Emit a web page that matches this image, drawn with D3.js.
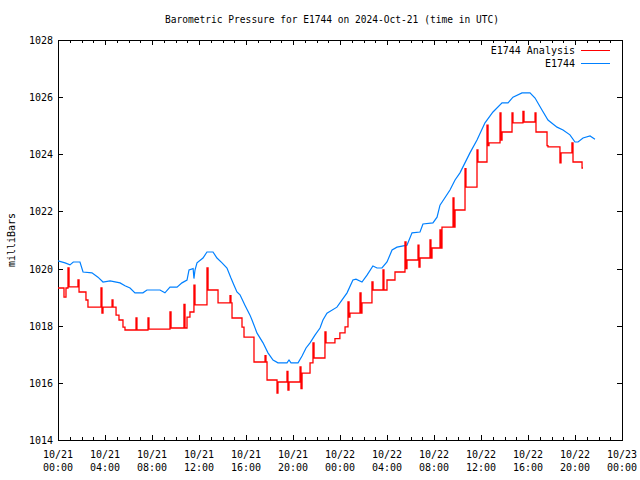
<!DOCTYPE html>
<html><head><meta charset="utf-8">
<script src="https://cdn.jsdelivr.net/npm/d3@7"></script>
<style>body{margin:0;background:#fff}svg{display:block}</style>
</head><body>
<svg id="c" width="640" height="480"></svg>
<script>
const titleText = "Barometric Pressure for E1744 on 2024-Oct-21 (time in UTC)";
const yLabel = "milliBars";
const seriesNames = ["E1744 Analysis", "E1744"];
const seriesColors = ["#ff0000", "#0080ff"];
const yTicks = [1014, 1016, 1018, 1020, 1022, 1024, 1026, 1028];
const xTickHours = [0, 4, 8, 12, 16, 20, 24, 28, 32, 36, 40, 44, 48];
const xTickDates = ["10/21","10/21","10/21","10/21","10/21","10/21","10/22","10/22","10/22","10/22","10/22","10/22","10/23"];
const xTickTimes = ["00:00","04:00","08:00","12:00","16:00","20:00","00:00","04:00","08:00","12:00","16:00","20:00","00:00"];

// hours since 2024-10-21 00:00 UTC, millibars
const stationSeries = [
[0,1020.27],[0.6,1020.2],[1.02,1020.13],[1.3,1020.23],[1.87,1020.23],[2.13,1019.88],[2.89,1019.85],
[3.4,1019.7],[3.83,1019.53],[4.43,1019.57],[5.28,1019.5],[5.7,1019.4],[6.13,1019.32],[6.55,1019.15],
[7.23,1019.15],[7.57,1019.25],[8.68,1019.25],[9.1,1019.15],[9.53,1019.35],[10.13,1019.35],[10.55,1019.5],
[10.98,1019.6],[11.15,1019.95],[11.5,1020.0],[11.57,1019.65],[11.66,1019.95],[11.83,1020.2],[12.34,1020.37],
[12.68,1020.58],[13.19,1020.58],[13.53,1020.37],[13.96,1020.2],[14.38,1020.02],[14.72,1019.67],[14.98,1019.42],
[15.23,1019.18],[15.49,1019.08],[15.91,1018.72],[16.34,1018.37],[16.51,1018.2],[16.94,1017.74],[17.45,1017.4],
[17.87,1017.05],[18.3,1016.8],[18.72,1016.7],[19.49,1016.7],[19.66,1016.8],[19.83,1016.7],[20.43,1016.7],
[20.77,1016.94],[21.11,1017.22],[21.45,1017.4],[21.87,1017.67],[22.3,1017.92],[22.55,1018.2],[22.89,1018.44],
[23.74,1018.65],[24.6,1019.15],[25.1,1019.6],[25.36,1019.63],[25.87,1019.53],[26.3,1019.77],[26.8,1020.09],
[27.15,1020.02],[27.57,1020.02],[28.0,1020.23],[28.43,1020.65],[28.85,1020.75],[29.7,1020.82],[30.13,1021.25],
[30.81,1021.28],[31.06,1021.56],[31.91,1021.6],[32.26,1021.8],[32.51,1022.22],[33.36,1022.75],[33.79,1023.1],
[34.21,1023.35],[35.06,1024.05],[35.66,1024.5],[36.34,1025.1],[37.02,1025.48],[37.79,1025.8],[38.3,1025.8],
[38.72,1026.0],[39.49,1026.15],[40.17,1026.15],[40.6,1025.97],[41.19,1025.55],[41.7,1025.2],[42.47,1024.95],
[42.98,1024.85],[43.57,1024.68],[44.0,1024.43],[44.26,1024.43],[44.68,1024.57],[45.28,1024.64],[45.7,1024.53]
];

const analysisSeries = [
[0,1019.32],[0.51,1019.0],[0.68,1019.32],[0.85,1020.02],[0.94,1019.36],[1.7,1019.6],[1.79,1019.18],
[2.38,1018.9],[2.55,1018.65],[3.66,1019.32],[3.74,1018.44],[3.83,1018.65],[4.6,1018.9],[4.68,1018.65],
[4.94,1018.37],[5.19,1018.2],[5.53,1017.95],[5.7,1017.85],[6.64,1018.27],[6.72,1017.85],[7.66,1018.27],
[7.74,1017.88],[9.53,1018.48],[9.62,1017.92],[10.72,1018.75],[10.81,1017.92],[10.98,1018.3],[11.23,1018.48],
[11.57,1019.42],[11.66,1018.73],[12.68,1020.02],[12.77,1019.25],[13.62,1018.8],[14.64,1019.05],[14.72,1018.8],
[14.81,1018.27],[15.66,1017.95],[15.83,1017.6],[16.68,1016.73],[17.62,1016.95],[17.7,1016.73],[17.79,1016.1],
[18.64,1015.64],[18.72,1016.03],[19.49,1016.4],[19.57,1015.75],[19.66,1016.03],[20.6,1016.56],[20.68,1015.8],
[20.77,1016.34],[21.45,1016.7],[21.7,1017.4],[21.79,1016.87],[22.72,1017.78],[22.81,1017.4],[23.57,1017.55],
[23.99,1017.75],[24.43,1017.96],[24.68,1018.83],[24.77,1018.3],[24.85,1018.44],[25.7,1019.15],[25.79,1018.44],
[25.87,1018.8],[26.72,1019.53],[26.81,1019.25],[27.66,1019.95],[27.74,1019.25],[28.0,1019.6],[28.68,1019.88],
[29.53,1020.93],[29.62,1020.0],[29.7,1020.3],[30.64,1020.82],[30.72,1020.05],[30.81,1020.37],[31.66,1021.0],
[31.74,1020.37],[31.83,1020.72],[32.51,1021.35],[32.6,1020.72],[32.68,1021.45],[33.62,1022.47],[33.7,1021.45],
[33.79,1022.05],[34.64,1023.5],[34.72,1022.85],[35.66,1024.15],[35.74,1023.73],[36.51,1025.02],[36.6,1024.3],
[36.68,1024.4],[37.62,1025.45],[37.7,1024.5],[37.79,1024.78],[38.64,1025.45],[38.72,1025.1],[39.57,1025.5],
[39.66,1025.13],[40.6,1025.45],[40.68,1024.78],[41.62,1024.3],[41.7,1024.26],[42.72,1023.7],[42.81,1024.05],
[43.74,1024.4],[43.83,1023.73],[44.6,1023.52],[44.68,1023.52]
];

const svg = d3.select("#c");
const L = 58, R = 622, T = 40, B = 440;
const x = d3.scaleLinear().domain([0, 48]).range([L, R]);
const y = d3.scaleLinear().domain([1014, 1028]).range([B, T]);
const font = "'DejaVu Sans Mono', 'Liberation Mono', monospace";

svg.append("text").attr("x", 332).attr("y", 23).attr("text-anchor", "middle")
  .attr("font-family", font).attr("font-size", 10).attr("textLength", 334).attr("lengthAdjust","spacingAndGlyphs")
  .text(titleText);

svg.append("text").attr("transform", "translate(15,240) rotate(-90)").attr("text-anchor", "middle")
  .attr("font-family", font).attr("font-size", 10).text(yLabel);

const g = svg.append("g").attr("shape-rendering", "crispEdges");

const axL = d3.axisRight(y).tickValues(yTicks).tickSize(5).tickFormat("");
g.append("g").attr("transform", `translate(${L},0)`).call(axL);
const axR = d3.axisLeft(y).tickValues(yTicks).tickSize(5).tickFormat("");
g.append("g").attr("transform", `translate(${R},0)`).call(axR);
const minorHours = d3.range(0, 49, 1);
const axBm = d3.axisTop(x).tickValues(minorHours).tickSize(3).tickFormat("");
g.append("g").attr("transform", `translate(0,${B})`).call(axBm);
const axBM = d3.axisTop(x).tickValues(xTickHours).tickSize(5).tickFormat("");
g.append("g").attr("transform", `translate(0,${B})`).call(axBM);
const axTm = d3.axisBottom(x).tickValues(minorHours).tickSize(3).tickFormat("");
g.append("g").attr("transform", `translate(0,${T})`).call(axTm);
const axTM = d3.axisBottom(x).tickValues(xTickHours).tickSize(5).tickFormat("");
g.append("g").attr("transform", `translate(0,${T})`).call(axTM);
g.selectAll(".domain").remove();
g.selectAll(".tick line").attr("stroke", "#000");

svg.append("g").selectAll("text").data(yTicks).join("text")
  .attr("x", L - 5).attr("y", d => y(d) + 4).attr("text-anchor", "end")
  .attr("font-family", font).attr("font-size", 10).text(d => d);

const xl = svg.append("g").selectAll("g").data(xTickHours).join("g")
  .attr("transform", d => `translate(${x(d)},0)`);
xl.append("text").attr("y", 458).attr("text-anchor", "middle").attr("font-family", font).attr("font-size", 10)
  .text((d, i) => xTickDates[i]);
xl.append("text").attr("y", 471).attr("text-anchor", "middle").attr("font-family", font).attr("font-size", 10)
  .text((d, i) => xTickTimes[i]);

const blueLine = d3.line().x(d => x(d[0])).y(d => y(d[1]));
svg.append("path").datum(stationSeries).attr("d", blueLine).attr("fill", "none")
  .attr("stroke", seriesColors[1]).attr("stroke-width", 1.2);
const redLine = d3.line().curve(d3.curveStepAfter).x(d => x(d[0])).y(d => y(d[1]));
svg.append("path").datum(analysisSeries).attr("d", redLine).attr("fill", "none")
  .attr("stroke", seriesColors[0]).attr("stroke-width", 1.3);

g.append("rect").attr("x", L).attr("y", T).attr("width", R - L).attr("height", B - T)
  .attr("fill", "none").attr("stroke", "#000");

const leg = svg.append("g");
seriesNames.forEach((n, i) => {
  const ly = 50 + i * 13;
  leg.append("text").attr("x", 575).attr("y", ly + 4).attr("text-anchor", "end")
    .attr("font-family", font).attr("font-size", 10).text(n);
  leg.append("line").attr("x1", 581).attr("x2", 610).attr("y1", ly).attr("y2", ly)
    .attr("stroke", seriesColors[i]).attr("stroke-width", 1).attr("shape-rendering", "crispEdges");
});
</script>
</body></html>
